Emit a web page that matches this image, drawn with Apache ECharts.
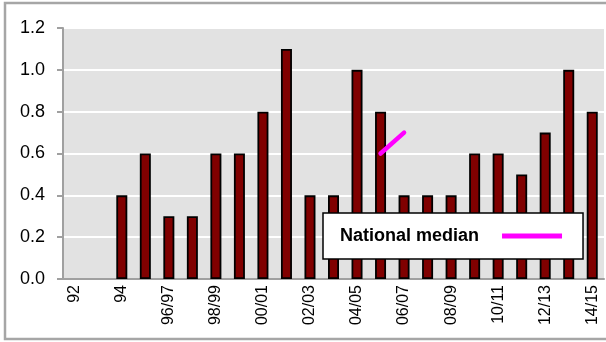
<!DOCTYPE html>
<html>
<head>
<meta charset="utf-8">
<script src="https://cdn.jsdelivr.net/npm/echarts@6/dist/echarts.min.js"></script>
<style>
  html, body { margin: 0; padding: 0; background: #fff; }
  #chart { width: 606px; height: 342px; }
</style>
</head>
<body>
<div id="chart"></div>
<script>
// Financial years on the category axis
const years = ['92', '93', '94', '95', '96/97', '97/98', '98/99', '99/00', '00/01', '01/02',
  '02/03', '03/04', '04/05', '05/06', '06/07', '07/08', '08/09', '09/10', '10/11',
  '11/12', '12/13', '13/14', '14/15'];

// Yearly values (no figure for the first two years)
const values = [null, null, 0.4, 0.6, 0.3, 0.3, 0.6, 0.6, 0.8, 1.1,
  0.4, 0.4, 1.0, 0.8, 0.4, 0.4, 0.4, 0.6, 0.6,
  0.5, 0.7, 1.0, 0.8];

// National median, only reported for two years
const nationalMedian = [null, null, null, null, null, null, null, null, null, null,
  null, null, null, 0.6, 0.7, null, null, null, null,
  null, null, null, null];

const yTicks = [0, 0.2, 0.4, 0.6, 0.8, 1.0, 1.2];

const chart = echarts.init(document.getElementById('chart'), null, { renderer: 'canvas' });

chart.setOption({
  animation: false,
  backgroundColor: '#ffffff',
  textStyle: { fontFamily: 'Liberation Sans, Arial, sans-serif' },
  graphic: [{
    type: 'rect',
    silent: true,
    z: -1,
    shape: { x: 5, y: 3, width: 610, height: 336 },
    style: { fill: 'none', stroke: '#a6a6a6', lineWidth: 2.5 }
  }],
  grid: {
    left: 63, right: 2, top: 28, bottom: 63,
    show: true, backgroundColor: '#e2e2e2', borderWidth: 0
  },
  legend: {
    data: ['National median'],
    left: 323, top: 213,
    backgroundColor: '#ffffff',
    borderColor: '#000000',
    borderWidth: 1.5,
    borderRadius: 0,
    padding: [14, 21, 14, 17],
    align: 'right',
    icon: 'rect',
    itemWidth: 60,
    itemHeight: 5,
    textStyle: {
      color: '#000', fontSize: 18, fontWeight: 'bold',
      fontFamily: 'Liberation Sans, Arial, sans-serif',
      padding: [0, 18, 0, 0]
    }
  },
  xAxis: {
    type: 'category',
    data: years,
    boundaryGap: true,
    axisLine: { show: true, lineStyle: { color: '#a0a0a0', width: 2 } },
    axisTick: { show: false },
    axisLabel: {
      interval: 1, rotate: 90, margin: 6,
      color: '#000', fontSize: 16,
      fontFamily: 'Liberation Sans, Arial, sans-serif'
    },
    splitLine: { show: false }
  },
  yAxis: {
    type: 'value',
    min: yTicks[0], max: yTicks[yTicks.length - 1], interval: 0.2,
    axisLine: { show: true, lineStyle: { color: '#a0a0a0', width: 2 } },
    axisTick: { show: true, length: 6, lineStyle: { color: '#a0a0a0', width: 2 } },
    axisLabel: {
      margin: 18, color: '#000', fontSize: 18,
      fontFamily: 'Liberation Sans, Arial, sans-serif',
      formatter: v => v.toFixed(1)
    },
    splitLine: { show: true, lineStyle: { color: '#ffffff', width: 2 } }
  },
  series: [
    {
      name: 'Value',
      type: 'bar',
      data: values,
      barWidth: 11,
      itemStyle: { color: '#800000', borderColor: '#000000', borderWidth: 1.8 },
      z: 2
    },
    {
      name: 'National median',
      type: 'line',
      data: nationalMedian,
      symbol: 'none',
      connectNulls: false,
      color: '#ff00ff',
      lineStyle: { color: '#ff00ff', width: 4.5, cap: 'round' },
      itemStyle: { color: '#ff00ff' },
      z: 3
    }
  ]
});
</script>
</body>
</html>
